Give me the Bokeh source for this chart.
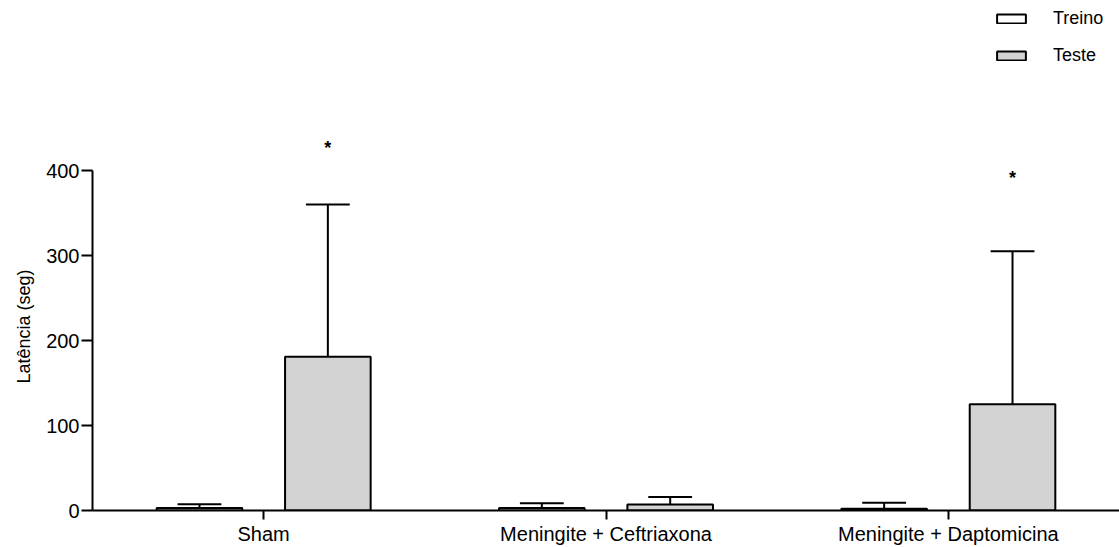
from bokeh.plotting import figure
from bokeh.models import (ColumnDataSource, Range1d, FactorRange, FixedTicker, Legend,
                          LegendItem, Title)
from bokeh.transform import dodge
from bokeh.embed import file_html
from bokeh.resources import INLINE
from bokeh.core.properties import value

# ---- data ----
groups = ["Sham", "Meningite + Ceftriaxona", "Meningite + Daptomicina"]
treino = [3, 3, 2]
treino_sem = [4.5, 5.5, 7]
teste = [181, 7, 125]
teste_sem = [179, 9, 180]
star_groups = ["Sham", "Meningite + Daptomicina"]
star_y = [427, 391]
y_ticks = [0, 100, 200, 300, 400]
y_label = "Latência (seg)"

FONT = "Liberation Sans"
W, H = 1119, 547
BOTTOM = 37
TOP_VAL = (H - BOTTOM) / 0.85

src = ColumnDataSource(dict(
    groups=groups,
    treino=treino,
    treino_top=[m + s for m, s in zip(treino, treino_sem)],
    teste=teste,
    teste_top=[m + s for m, s in zip(teste, teste_sem)],
))

p = figure(width=W, height=H,
           x_range=FactorRange(*groups), y_range=Range1d(0, TOP_VAL),
           output_backend="svg", toolbar_location=None,
           min_border_left=92, min_border_right=0, min_border_top=0,
           min_border_bottom=BOTTOM)

OFF = 0.1875
BW = 0.25
CAP = 0.064

r1 = p.vbar(x=dodge("groups", -OFF, range=p.x_range), top="treino", width=BW,
            source=src, fill_color="white", line_color="black", line_width=2)
r2 = p.vbar(x=dodge("groups", OFF, range=p.x_range), top="teste", width=BW,
            source=src, fill_color="#d3d3d3", line_color="black", line_width=2)

for off, m, t in [(-OFF, "treino", "treino_top"), (OFF, "teste", "teste_top")]:
    p.segment(x0=dodge("groups", off, range=p.x_range), y0=m,
              x1=dodge("groups", off, range=p.x_range), y1=t,
              source=src, line_color="black", line_width=2)
    p.segment(x0=dodge("groups", off - CAP, range=p.x_range), y0=t,
              x1=dodge("groups", off + CAP, range=p.x_range), y1=t,
              source=src, line_color="black", line_width=2)

star_src = ColumnDataSource(dict(groups=star_groups, y=star_y, t=["*"] * len(star_groups)))
p.text(x=dodge("groups", OFF, range=p.x_range), y="y", text="t", source=star_src,
       text_align="center", text_baseline="middle",
       text_font=value(FONT), text_font_size="18px", text_font_style="bold",
       text_color="black")

legend = Legend(items=[LegendItem(label="Treino", renderers=[r1]),
                       LegendItem(label="Teste", renderers=[r2])],
                location="top_right", margin=8, padding=5,
                border_line_color=None, background_fill_alpha=0,
                label_text_font=FONT, label_text_font_size="18px",
                label_text_color="black", label_width=58,
                glyph_width=36, glyph_height=11, label_standoff=24, spacing=16)
p.add_layout(legend)

p.xgrid.grid_line_color = None
p.ygrid.grid_line_color = None
p.outline_line_color = None

for ax in (p.xaxis[0], p.yaxis[0]):
    ax.axis_line_width = 2
    ax.axis_line_color = "black"
    ax.major_tick_line_width = 2
    ax.major_tick_line_color = "black"
    ax.major_tick_in = 0
    ax.minor_tick_line_color = None
    ax.major_label_text_font = FONT
    ax.major_label_text_font_size = "20px"
    ax.major_label_text_color = "black"

p.xaxis[0].major_tick_out = 9
p.xaxis[0].major_label_standoff = 3

p.yaxis[0].bounds = (0, 400)
p.yaxis[0].ticker = FixedTicker(ticks=y_ticks)
p.yaxis[0].major_tick_out = 11
p.yaxis[0].major_label_standoff = 2

# y-axis title as a side title so it can sit beside the 0-400 part of the axis
p.add_layout(Title(text=y_label, align="left", offset=127, standoff=20,
                   text_font=FONT, text_font_size="18px", text_font_style="normal",
                   text_color="black"), "left")

open("out.html", "w").write(file_html(p, INLINE))
